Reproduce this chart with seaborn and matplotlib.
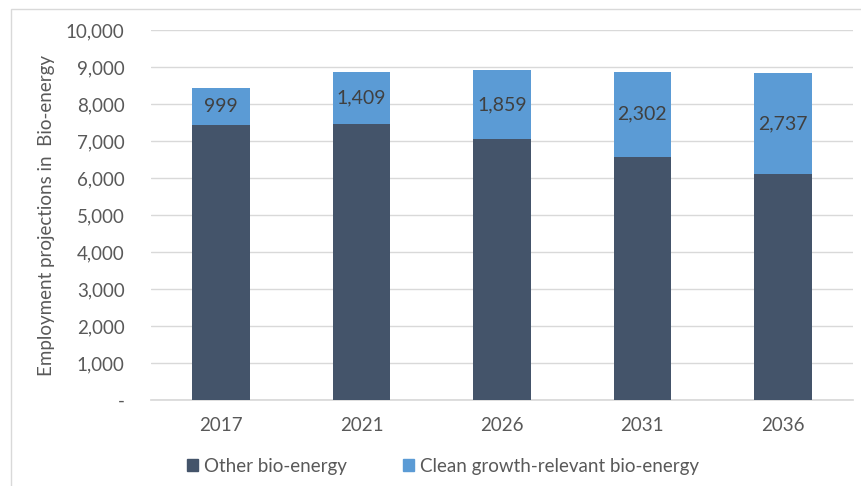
import matplotlib
matplotlib.use("Agg")
import matplotlib.pyplot as plt
from matplotlib.patches import Rectangle
from matplotlib.ticker import FuncFormatter
import seaborn as sns
import pandas as pd

years = ["2017", "2021", "2026", "2031", "2036"]
other_bio = [7440, 7460, 7055, 6575, 6100]
clean_bio = [999, 1409, 1859, 2302, 2737]
series_names = ["Other bio-energy", "Clean growth-relevant bio-energy"]
y_label = "Employment projections in  Bio-energy"

dark = "#44546A"
blue = "#5B9BD5"
text_grey = "#595959"

df = pd.DataFrame({"year": years, "other": other_bio, "clean": clean_bio})
df["total"] = df["other"] + df["clean"]

sns.set_theme(style="white")
plt.rcParams["font.family"] = ["Lato", "DejaVu Sans"]

W, H = 861, 486
fig = plt.figure(figsize=(W / 100, H / 100), dpi=100)
ax = fig.add_axes([151 / W, 1 - 400 / H, (853 - 151) / W, (400 - 30) / H])

# stacked bars: full height in blue, lower segment in dark slate
sns.barplot(data=df, x="year", y="total", color=blue, width=0.41,
            saturation=1, linewidth=0, ax=ax, zorder=2)
sns.barplot(data=df, x="year", y="other", color=dark, width=0.41,
            saturation=1, linewidth=0, ax=ax, zorder=3)

for i, (o, c) in enumerate(zip(other_bio, clean_bio)):
    ax.text(i, o + c / 2, f"{c:,}", ha="center", va="center",
            fontsize=14, color="#404040", zorder=4)

ax.set_ylim(0, 10000)
ax.set_xlim(-0.5, 4.5)
ax.set_yticks(range(0, 10001, 1000))
ax.yaxis.set_major_formatter(FuncFormatter(lambda v, p: "-" if v == 0 else f"{int(v):,}"))
ax.yaxis.grid(True, color="#D9D9D9", linewidth=1, zorder=0)
ax.set_axisbelow(True)
for s in ["left", "right", "top"]:
    ax.spines[s].set_visible(False)
ax.spines["bottom"].set_color("#D9D9D9")
ax.tick_params(axis="both", length=0, labelsize=13.5, labelcolor=text_grey)
ax.tick_params(axis="y", pad=19)
ax.tick_params(axis="x", pad=12)
ax.set_xlabel("")
ax.set_ylabel(y_label, fontsize=13.5, color=text_grey)
ax.yaxis.set_label_coords(-96 / (853 - 151), 0.5)

# legend below the plot
handles = [Rectangle((0, 0), 1, 1, color=dark), Rectangle((0, 0), 1, 1, color=blue)]
fig.legend(handles, series_names, loc="center", bbox_to_anchor=(443 / W, 1 - 466 / H),
           ncol=2, frameon=False, fontsize=13.5, labelcolor=text_grey,
           handlelength=0.6, handleheight=0.6, handletextpad=0.3, columnspacing=3.0)

# chart frame
fig.add_artist(Rectangle((11 / W, -0.05), 1.1, 1 - 9 / H + 0.05, transform=fig.transFigure,
                         fill=False, edgecolor="#D9D9D9", linewidth=1))

fig.savefig("out.png", dpi=100, facecolor="white")
